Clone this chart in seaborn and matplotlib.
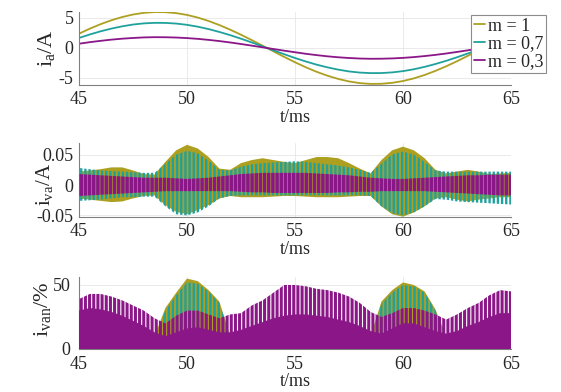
import numpy as np
import pandas as pd
import matplotlib
matplotlib.use("Agg")
import matplotlib.pyplot as plt
import seaborn as sns

# ---------------- data ----------------
t_ia = np.linspace(45, 65, 41)          # ms, 0.5 ms step
ia_m1 = [2.38, 3.22, 3.97, 4.62, 5.16, 5.58, 5.86, 5.99, 5.97, 5.81, 5.51, 5.07, 4.50, 3.82, 3.05,
         2.21, 1.31, 0.38, -0.56, -1.49, -2.38, -3.22, -3.97, -4.62, -5.16, -5.58, -5.86, -5.99,
         -5.97, -5.81, -5.51, -5.07, -4.50, -3.82, -3.05, -2.21, -1.31, -0.38, 0.56, 1.49, 2.38]
ia_m07 = [1.67, 2.25, 2.78, 3.23, 3.61, 3.91, 4.10, 4.19, 4.18, 4.07, 3.86, 3.55, 3.15, 2.67, 2.14,
          1.55, 0.92, 0.27, -0.39, -1.04, -1.67, -2.25, -2.78, -3.23, -3.61, -3.91, -4.10, -4.19,
          -4.18, -4.07, -3.86, -3.55, -3.15, -2.67, -2.14, -1.55, -0.92, -0.27, 0.39, 1.04, 1.67]
ia_m03 = [0.71, 0.97, 1.19, 1.39, 1.55, 1.67, 1.76, 1.80, 1.79, 1.74, 1.65, 1.52, 1.35, 1.15, 0.92,
          0.66, 0.39, 0.11, -0.17, -0.45, -0.71, -0.97, -1.19, -1.39, -1.55, -1.67, -1.76, -1.80,
          -1.79, -1.74, -1.65, -1.52, -1.35, -1.15, -0.92, -0.66, -0.39, -0.11, 0.17, 0.45, 0.71]

# envelopes of the switching ripple (upper / lower peaks), 0.5 ms step
t_env = np.linspace(45, 65, 41)
iva_m1_hi = [0.022, 0.024, 0.026, 0.029, 0.029, 0.024, 0.018, 0.017, 0.038, 0.057, 0.066, 0.060, 0.046, 0.027,
             0.025, 0.036, 0.041, 0.044, 0.041, 0.038, 0.036, 0.041, 0.046, 0.046, 0.044, 0.036, 0.027, 0.019,
             0.041, 0.057, 0.063, 0.057, 0.044, 0.025, 0.019, 0.022, 0.025, 0.022, 0.018, 0.019, 0.020]
iva_m1_lo = [-0.022, -0.024, -0.026, -0.028, -0.027, -0.022, -0.018, -0.017, -0.033, -0.044, -0.048, -0.041,
             -0.033, -0.022, -0.018, -0.020, -0.020, -0.020, -0.019, -0.018, -0.018, -0.019, -0.020, -0.020,
             -0.020, -0.019, -0.018, -0.018, -0.035, -0.048, -0.052, -0.045, -0.035, -0.022, -0.020, -0.024,
             -0.027, -0.024, -0.022, -0.020, -0.020]
iva_m07_hi = [0.028, 0.026, 0.024, 0.023, 0.022, 0.021, 0.020, 0.020, 0.035, 0.050, 0.056, 0.052, 0.040, 0.025,
              0.024, 0.030, 0.034, 0.036, 0.037, 0.038, 0.039, 0.038, 0.036, 0.034, 0.032, 0.029, 0.025, 0.020,
              0.035, 0.050, 0.055, 0.050, 0.038, 0.024, 0.022, 0.022, 0.022, 0.022, 0.022, 0.022, 0.022]
iva_m07_lo = [-0.026, -0.025, -0.024, -0.022, -0.020, -0.020, -0.019, -0.019, -0.035, -0.048, -0.050, -0.045,
              -0.035, -0.022, -0.018, -0.017, -0.017, -0.017, -0.017, -0.017, -0.017, -0.017, -0.017, -0.017,
              -0.017, -0.017, -0.017, -0.018, -0.035, -0.046, -0.050, -0.045, -0.035, -0.023, -0.024, -0.027,
              -0.028, -0.029, -0.030, -0.031, -0.032]
iva_m03_hi = [0.018, 0.017, 0.016, 0.015, 0.014, 0.013, 0.012, 0.012, 0.012, 0.011, 0.010, 0.011, 0.012, 0.014,
              0.016, 0.018, 0.019, 0.020, 0.020, 0.020, 0.020, 0.020, 0.019, 0.018, 0.017, 0.016, 0.014, 0.012,
              0.011, 0.010, 0.010, 0.011, 0.012, 0.013, 0.014, 0.015, 0.016, 0.016, 0.017, 0.017, 0.017]
iva_m03_lo = [-0.018, -0.017, -0.016, -0.015, -0.014, -0.013, -0.012, -0.011, -0.010, -0.010, -0.010, -0.010,
              -0.010, -0.010, -0.010, -0.011, -0.012, -0.012, -0.013, -0.013, -0.013, -0.013, -0.013, -0.013,
              -0.012, -0.012, -0.011, -0.011, -0.010, -0.010, -0.010, -0.010, -0.010, -0.011, -0.012, -0.013,
              -0.014, -0.015, -0.016, -0.017, -0.017]

ivan_m1_hi = [8, 8, 8, 8, 8, 8, 8, 10, 32, 44, 55, 53, 46, 37, 10, 8, 8, 8, 8, 8, 8, 8, 8, 8, 8, 8, 8, 10,
              37, 46, 52, 50, 45, 31, 10, 8, 8, 8, 8, 8, 8]
ivan_m07_hi = [10, 12, 12, 12, 11, 10, 9, 10, 30, 42, 52, 51, 45, 36, 10, 8, 8, 8, 8, 8, 8, 8, 8, 8, 8, 8, 8, 10,
               35, 44, 50, 49, 44, 30, 10, 8, 8, 8, 8, 8, 8]
ivan_m03_hi = [39, 43, 43, 41, 38, 34, 30, 24, 20, 26, 30, 30, 27, 24, 27, 28, 34, 38, 44, 50, 50, 49, 47, 46,
               44, 41, 36, 29, 25, 28, 32, 32, 30, 27, 23, 27, 32, 36, 42, 46, 45]
ivan_m03_core = [30, 32, 31, 29, 26, 22, 18, 13, 10, 13, 16, 17, 15, 13, 13, 15, 18, 21, 24, 26, 27, 27, 26, 25,
                 23, 21, 18, 14, 12, 16, 20, 20, 17, 14, 12, 14, 18, 21, 25, 28, 28]

series_labels = ["m = 1", "m = 0,7", "m = 0,3"]
colors = ["#ADA021", "#1FA19C", "#8A1688"]
x_ticks = [45, 50, 55, 60, 65]

# ---------------- style ----------------
sns.set_theme(style="whitegrid")
plt.rcParams["font.family"] = ["Liberation Serif", "DejaVu Serif"]
plt.rcParams["mathtext.fontset"] = "custom"
plt.rcParams["mathtext.rm"] = "Liberation Serif"
plt.rcParams["mathtext.it"] = "Liberation Serif:italic"
plt.rcParams["axes.unicode_minus"] = False

fig = plt.figure(figsize=(5.61, 3.92), dpi=100)
ax1 = fig.add_axes([0.1408, 0.7832, 0.7701, 0.1862])
ax2 = fig.add_axes([0.1408, 0.4464, 0.7701, 0.1888])
ax3 = fig.add_axes([0.1408, 0.1097, 0.7701, 0.1837])


def striped_band(ax, x, lo, hi, color, lw, z):
    """ripple band drawn as dense vertical stripes in the series colour"""
    with plt.rc_context({"hatch.linewidth": lw}):
        coll = ax.fill_between(x, lo, hi, facecolor="none", edgecolor=color, hatch="||||",
                               linewidth=0, zorder=z)
    if hasattr(coll, "set_hatch_linewidth"):
        coll.set_hatch_linewidth(lw)
    return coll


# top panel: phase current
df_ia = pd.DataFrame({
    "t": np.concatenate([t_ia, t_ia, t_ia]),
    "i": ia_m1 + ia_m07 + ia_m03,
    "m": np.repeat(series_labels, len(t_ia)),
})
sns.lineplot(data=df_ia, x="t", y="i", hue="m", hue_order=series_labels, palette=colors,
             linewidth=1.3, ax=ax1, legend=False)

# middle panel: ripple bands
ax2.fill_between(t_env, iva_m1_lo, iva_m1_hi, facecolor=colors[0], edgecolor="none", linewidth=0, zorder=2)
striped_band(ax2, t_env, iva_m07_lo, iva_m07_hi, colors[1], 1.7, 3)
striped_band(ax2, t_env, iva_m03_lo, iva_m03_hi, colors[2], 2.5, 4)

# bottom panel
zero = np.zeros(len(t_env))
ax3.fill_between(t_env, zero, ivan_m1_hi, facecolor=colors[0], edgecolor="none", linewidth=0, zorder=2)
striped_band(ax3, t_env, zero, ivan_m07_hi, colors[1], 1.7, 3)
striped_band(ax3, t_env, zero, ivan_m03_hi, colors[2], 2.2, 4)
ax3.fill_between(t_env, zero, ivan_m03_core, facecolor=colors[2], edgecolor="none", linewidth=0, zorder=5)

# axes cosmetics
for ax in (ax1, ax2, ax3):
    ax.set_xlim(45, 65)
    ax.set_xticks(x_ticks)
    ax.grid(True, color="#e6e6e6", linewidth=0.6)
    ax.set_axisbelow(True)
    for s in ("top", "right"):
        ax.spines[s].set_visible(False)
    for s in ("left", "bottom"):
        ax.spines[s].set_color("#808080")
        ax.spines[s].set_linewidth(0.8)
    ax.tick_params(axis="both", direction="in", length=3, width=0.6, color="#808080",
                   labelsize=13, labelcolor="#262626", pad=4)
    ax.set_xlabel("t/ms", fontsize=13, color="#262626", labelpad=1)

ax3.tick_params(axis="y", pad=6)
ax3.tick_params(axis="x", pad=5)
ax3.set_xlabel("t/ms", fontsize=13, color="#262626", labelpad=0)

ax1.set_ylim(-6.17, 6.0)
ax1.set_yticks([-5, 0, 5])
ax1.set_ylabel(r"$\mathrm{i_a/A}$", fontsize=16, color="#262626")
ax1.yaxis.set_label_coords(-0.052, 0.5)

ax2.set_ylim(-0.0525, 0.069)
ax2.set_yticks([-0.05, 0, 0.05])
ax2.set_yticklabels(["-0.05", "0", "0.05"])
ax2.set_ylabel(r"$\mathrm{i_{va}/A}$", fontsize=15, color="#262626")
ax2.yaxis.set_label_coords(-0.056, 0.44)

ax3.set_ylim(0, 56.25)
ax3.set_yticks([0, 50])
ax3.set_ylabel(r"$\mathrm{i_{van}/\%}$", fontsize=16, color="#262626")
ax3.yaxis.set_label_coords(-0.06, 0.55)

handles = ax1.get_lines()[:3]
leg = fig.legend(handles, series_labels, loc="upper right", bbox_to_anchor=(0.973, 0.962),
                 frameon=True, fancybox=False, edgecolor="#8c8c8c", framealpha=1, fontsize=13,
                 handlelength=0.6, handletextpad=0.15, labelspacing=0.05, borderpad=0.15,
                 borderaxespad=0)
leg.get_frame().set_linewidth(0.8)

fig.savefig("out.png", dpi=100)
